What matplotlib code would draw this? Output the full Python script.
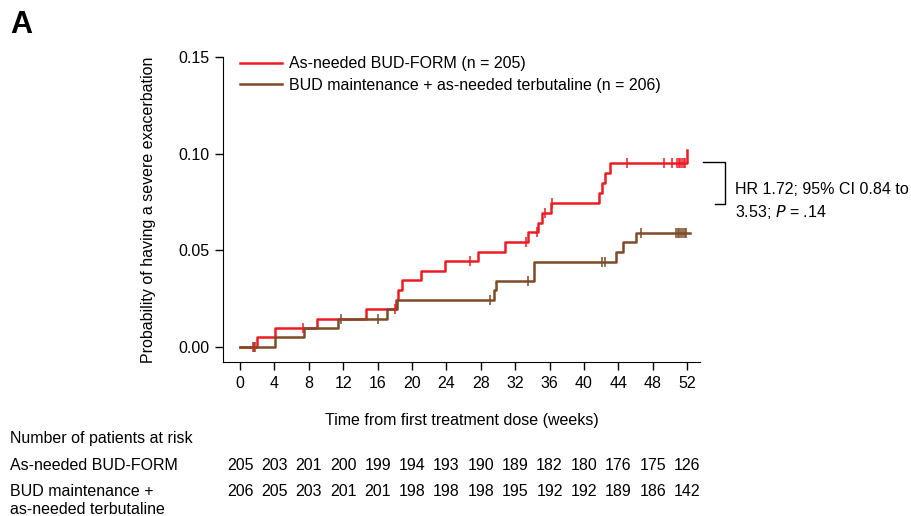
import numpy as np
import matplotlib.pyplot as plt
from matplotlib.transforms import blended_transform_factory
from matplotlib.lines import Line2D

plt.rcParams["font.family"] = ["Liberation Sans", "DejaVu Sans"]
plt.rcParams["font.size"] = 11.5

# As-needed BUD-FORM
t_bf = [0, 2.0, 4.1, 9.0, 14.7, 18.1, 18.4, 18.8, 21.0, 23.8, 27.7, 30.8,
        33.5, 34.6, 35.1, 36.2, 41.8, 42.1, 42.4, 43.0, 52.0]
p_bf = [0, 0.0049, 0.0098, 0.0146, 0.0195, 0.0245, 0.0295, 0.0344, 0.0393,
        0.0443, 0.0493, 0.0543, 0.0593, 0.0643, 0.0693, 0.0743, 0.0795,
        0.0847, 0.0898, 0.0950, 0.1020]
cens_bf = [1.5, 1.7, 7.3, 18.0, 26.8, 33.3, 34.5, 35.5, 36.3, 45.0, 49.3,
           50.3, 50.8, 51.0, 51.2, 51.4, 51.6, 51.8]

# BUD maintenance + as-needed terbutaline
t_bm = [0, 4.1, 7.4, 11.4, 17.1, 18.2, 29.5, 29.8, 34.2, 43.7, 44.5, 46.1, 52.3]
p_bm = [0, 0.0049, 0.0097, 0.0146, 0.0195, 0.0244, 0.0293, 0.0342, 0.0441,
        0.0491, 0.0541, 0.0591, 0.0591]
cens_bm = [1.6, 11.8, 16.0, 29.1, 33.5, 42.1, 42.5, 46.6, 50.7, 50.9, 51.1,
           51.3, 51.5, 51.7, 51.9]

risk_weeks = np.arange(0, 53, 4)
risk_bf = [205, 203, 201, 200, 199, 194, 193, 190, 189, 182, 180, 176, 175, 126]
risk_bm = [206, 205, 203, 201, 201, 198, 198, 198, 195, 192, 192, 189, 186, 142]

c_bf = "#ec1c24"
c_bm = "#7d4b27"


def level(ts, ps, x):
    i = np.searchsorted(ts, x, side="right") - 1
    return ps[i]


fig = plt.figure(figsize=(9.11, 5.16), dpi=100)
ax = fig.add_axes([223 / 911, 1 - 362 / 516, 477 / 911, 305 / 516])

ax.step(t_bf, p_bf, where="post", color=c_bf, lw=1.8,
        label="As-needed BUD-FORM (n = 205)")
ax.step(t_bm, p_bm, where="post", color=c_bm, lw=1.8,
        label="BUD maintenance + as-needed terbutaline (n = 206)")
ax.plot(cens_bf, [level(t_bf, p_bf, c) for c in cens_bf], ls="none",
        marker="|", ms=7, mew=1.1, color=c_bf)
ax.plot(cens_bm, [level(t_bm, p_bm, c) for c in cens_bm], ls="none",
        marker="|", ms=7, mew=1.1, color=c_bm)

ax.set_xlim(-1.98, 53.5)
ax.set_ylim(-0.0078, 0.15)
ax.set_xticks(risk_weeks)
ax.set_yticks([0, 0.05, 0.10, 0.15])
ax.set_yticklabels(["0.00", "0.05", "0.10", "0.15"])
ax.spines["top"].set_visible(False)
ax.spines["right"].set_visible(False)
ax.tick_params(length=6, width=1, pad=4)
ax.set_xlabel("Time from first treatment dose (weeks)", labelpad=16)
ax.set_ylabel("Probability of having a severe exacerbation", labelpad=16)

ax.legend(loc="upper left", bbox_to_anchor=(0.0356, 1.002), frameon=False,
          handlelength=2.6, handletextpad=0.5, labelspacing=0.4,
          borderaxespad=0, borderpad=0)

# HR bracket
fig.add_artist(Line2D([703 / 911, 725 / 911, 725 / 911, 715 / 911],
                      [1 - 162 / 516, 1 - 162 / 516, 1 - 204 / 516, 1 - 204 / 516],
                      color="black", lw=1))
fig.text(735 / 911, 1 - 190 / 516, "HR 1.72; 95% CI 0.84 to", va="center")
fig.text(735 / 911, 1 - 212 / 516, "3.53; $\\it{P}$ = .14", va="center")

fig.text(10 / 911, 1 - 25 / 516, "A", fontsize=22, fontweight="bold", va="center")

# risk table
fig.text(10 / 911, 1 - 439 / 516, "Number of patients at risk", va="center")
fig.text(10 / 911, 1 - 466 / 516, "As-needed BUD-FORM", va="center")
fig.text(10 / 911, 1 - 491 / 516, "BUD maintenance +", va="center")
fig.text(10 / 911, 1 - 510 / 516, "as-needed terbutaline", va="center")
tr = blended_transform_factory(ax.transData, fig.transFigure)
for w, a, b in zip(risk_weeks, risk_bf, risk_bm):
    ax.text(w, 1 - 466 / 516, str(a), transform=tr, ha="center", va="center")
    ax.text(w, 1 - 491 / 516, str(b), transform=tr, ha="center", va="center")

fig.savefig("out.png", dpi=100)
